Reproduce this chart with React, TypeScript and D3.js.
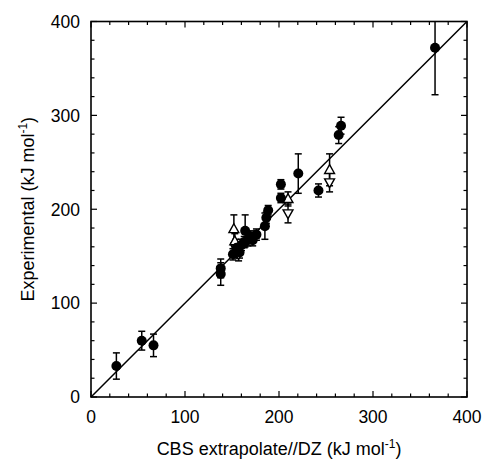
import React from "react";
import * as d3 from "d3";

// Filled circles
const circleX = [27, 54, 66.5, 138, 138, 151, 155, 158, 160, 163, 164, 167, 170, 172, 176, 185, 186.5, 188.5, 202, 202, 220.5, 242, 263.5, 266, 366];
const circleY = [33, 60, 55, 137, 131, 152, 159, 154, 162, 165, 177, 167, 171, 167, 173, 182, 191, 199, 226.5, 212, 238, 220, 279, 289, 372];
const circleErr = [14, 10, 12, 10, 12, 6, 6, 6, 6, 6, 17, 6, 6, 6, 6, 14, 6, 5, 5, 5, 21, 7, 9, 9, 50];

// Open up-triangles
const upX = [152, 153, 209.6, 253.8];
const upY = [179, 166, 211, 242];
const upErr = [15, 8, 7.5, 17];

// Open down-triangles
const downX = [154, 157, 209.6, 253.8];
const downY = [158, 152, 195.5, 228.5];
const downErr = [10, 7, 10, 10];

const xTicks = [0, 100, 200, 300, 400];
const yTicks = [0, 100, 200, 300, 400];
const minorTicks = d3.range(0, 401, 20);

const W = 483;
const H = 460;
const L = 91, R = 467, T = 21.5, B = 397;

export default function App() {
  const x = d3.scaleLinear().domain([0, 400]).range([L, R]);
  const y = d3.scaleLinear().domain([0, 400]).range([B, T]);
  const font = "'Liberation Sans', Arial, Helvetica, sans-serif";
  const cap = 3.5;
  const triS = 5.2;

  const errBar = (xv: number, yv: number, e: number, key: string) => {
    const lo = Math.max(0, yv - e);
    const hi = Math.min(400, yv + e);
    return (
      <g key={key}>
        <line x1={x(xv)} x2={x(xv)} y1={y(lo)} y2={y(hi)} stroke="#000" strokeWidth={1.5} />
        {yv + e <= 400 && (
          <line x1={x(xv) - cap} x2={x(xv) + cap} y1={y(hi)} y2={y(hi)} stroke="#000" strokeWidth={1.5} />
        )}
        {yv - e >= 0 && (
          <line x1={x(xv) - cap} x2={x(xv) + cap} y1={y(lo)} y2={y(lo)} stroke="#000" strokeWidth={1.5} />
        )}
      </g>
    );
  };

  const upPath = (cx: number, cy: number) =>
    `M${cx},${cy - triS} L${cx + triS * 0.95},${cy + triS * 0.7} L${cx - triS * 0.95},${cy + triS * 0.7} Z`;
  const downPath = (cx: number, cy: number) =>
    `M${cx},${cy + triS} L${cx + triS * 0.95},${cy - triS * 0.7} L${cx - triS * 0.95},${cy - triS * 0.7} Z`;

  return (
    <svg width={W} height={H} style={{ position: "absolute", left: 0, top: 0, background: "#fff" }}>
      <rect x={0} y={0} width={W} height={H} fill="#fff" />
      {minorTicks.map((t) => {
        const major = t % 100 === 0;
        const len = major ? 6 : 3.5;
        return (
          <g key={"t" + t} stroke="#000" strokeWidth={1.2}>
            <line x1={x(t)} x2={x(t)} y1={B} y2={B - len} />
            <line x1={x(t)} x2={x(t)} y1={T} y2={T + len} />
            <line x1={L} x2={L + len} y1={y(t)} y2={y(t)} />
            <line x1={R} x2={R - len} y1={y(t)} y2={y(t)} />
          </g>
        );
      })}
      <rect x={L} y={T} width={R - L} height={B - T} fill="none" stroke="#000" strokeWidth={1.6} />
      {xTicks.map((t) => (
        <text key={"xl" + t} x={x(t)} y={423} textAnchor="middle" fontFamily={font} fontSize={17.5} fill="#000">
          {t}
        </text>
      ))}
      {yTicks.map((t) => (
        <text key={"yl" + t} x={80} y={y(t) + 6.3} textAnchor="end" fontFamily={font} fontSize={17.5} fill="#000">
          {t}
        </text>
      ))}
      <text x={(L + R) / 2} y={455} textAnchor="middle" fontFamily={font} fontSize={18} fill="#000">
        CBS extrapolate//DZ (kJ mol
        <tspan dy={-7} fontSize={12}>-1</tspan>
        <tspan dy={7}>)</tspan>
      </text>
      <text
        transform={`translate(33.5, ${(T + B) / 2}) rotate(-90)`}
        textAnchor="middle"
        fontFamily={font}
        fontSize={18}
        fill="#000"
      >
        Experimental (kJ mol
        <tspan dy={-7} fontSize={12}>-1</tspan>
        <tspan dy={7}>)</tspan>
      </text>
      <line x1={x(0)} y1={y(0)} x2={x(400)} y2={y(400)} stroke="#000" strokeWidth={1.5} />
      {circleX.map((xv, i) => errBar(xv, circleY[i], circleErr[i], "ce" + i))}
      {upX.map((xv, i) => errBar(xv, upY[i], upErr[i], "ue" + i))}
      {downX.map((xv, i) => errBar(xv, downY[i], downErr[i], "de" + i))}
      {upX.map((xv, i) => (
        <path key={"u" + i} d={upPath(x(xv), y(upY[i]))} fill="#fff" stroke="#000" strokeWidth={1.4} />
      ))}
      {downX.map((xv, i) => (
        <path key={"d" + i} d={downPath(x(xv), y(downY[i]))} fill="#fff" stroke="#000" strokeWidth={1.4} />
      ))}
      {circleX.map((xv, i) => (
        <circle key={"c" + i} cx={x(xv)} cy={y(circleY[i])} r={5} fill="#000" />
      ))}
    </svg>
  );
}
